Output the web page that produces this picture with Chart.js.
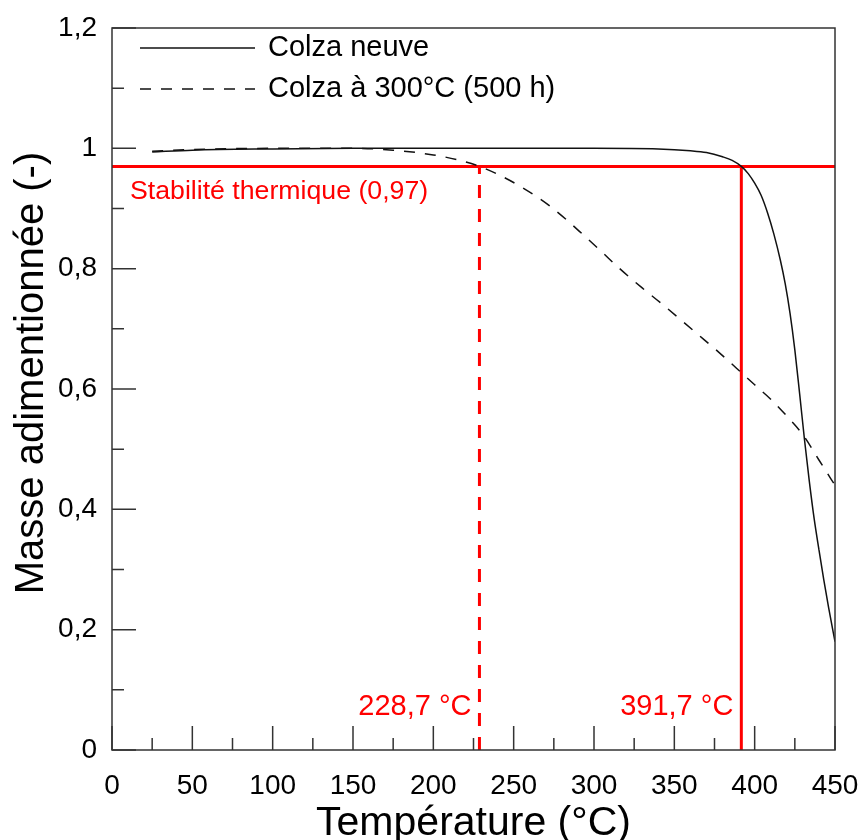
<!DOCTYPE html>
<html>
<head>
<meta charset="utf-8">
<script src="https://cdn.jsdelivr.net/npm/chart.js@4.4.1/dist/chart.umd.min.js"></script>
<style>
    body { margin: 0; background: #fff; }
    #wrap { width: 862px; height: 840px; }
</style>
</head>
<body>
<div id="wrap"><canvas id="chart" width="862" height="840"></canvas></div>
<script>
// valeurs
const tempNeuve = [25, 50, 100, 150, 200, 250, 300, 340, 360, 370, 380, 386, 391.7, 396, 400, 404, 408, 412, 416, 419, 422, 425, 428, 431, 434, 437, 440, 443, 446, 450];
const masseNeuve = [0.994, 0.997, 0.999, 1.0, 1.0, 1.0, 1.0, 0.999, 0.996, 0.993, 0.986, 0.98, 0.97, 0.958, 0.942, 0.922, 0.893, 0.857, 0.814, 0.775, 0.726, 0.665, 0.592, 0.516, 0.447, 0.385, 0.333, 0.283, 0.237, 0.18];

const tempVieillie = [25, 50, 100, 150, 175, 200, 215, 228.7, 240, 254, 263, 273, 283, 293, 304, 316, 330, 342, 354, 365, 376, 391, 400, 410, 420, 430, 440, 450];
const masseVieillie = [0.995, 0.998, 1.0, 1.0, 0.997, 0.989, 0.981, 0.97, 0.957, 0.937, 0.922, 0.903, 0.881, 0.857, 0.83, 0.8, 0.768, 0.742, 0.715, 0.69, 0.665, 0.629, 0.607, 0.583, 0.555, 0.524, 0.482, 0.44];

const seuil = 0.97;
const tempSeuil = [228.7, 391.7];
const plageX = [0, 450];

const xMajor = [0, 50, 100, 150, 200, 250, 300, 350, 400, 450];
const xMinor = [25, 75, 125, 175, 225, 275, 325, 375, 425];
const yMajor = [0, 0.2, 0.4, 0.6, 0.8, 1.0, 1.2];
const yMinor = [0.1, 0.3, 0.5, 0.7, 0.9, 1.1];

const labels = ["Colza neuve", "Colza à 300°C (500 h)"];

const FONT = "'Liberation Sans', Arial, sans-serif";
const RED = "#ff0000";

function pts(xs, ys) {
    return xs.map((x, i) => ({x: x, y: ys[i]}));
}
function virgule(v) {
    return String(v).replace(".", ",");
}

const decor = {
    id: "decor",
    afterDraw(chart) {
        const ctx = chart.ctx;
        const a = chart.chartArea;
        const sx = chart.scales.x;
        const sy = chart.scales.y;
        ctx.save();

        // cadre
        ctx.strokeStyle = "#333";
        ctx.lineWidth = 1.5;
        ctx.strokeRect(a.left, a.top, a.right - a.left, a.bottom - a.top);

        // graduations vers l'intérieur
        ctx.beginPath();
        xMajor.forEach(v => { let p = sx.getPixelForValue(v); ctx.moveTo(p, a.bottom); ctx.lineTo(p, a.bottom - 24); });
        xMinor.forEach(v => { let p = sx.getPixelForValue(v); ctx.moveTo(p, a.bottom); ctx.lineTo(p, a.bottom - 12); });
        yMajor.forEach(v => { let p = sy.getPixelForValue(v); ctx.moveTo(a.left, p); ctx.lineTo(a.left + 24, p); });
        yMinor.forEach(v => { let p = sy.getPixelForValue(v); ctx.moveTo(a.left, p); ctx.lineTo(a.left + 12, p); });
        ctx.stroke();

        // légende
        ctx.font = "29px " + FONT;
        ctx.textBaseline = "middle";
        ctx.textAlign = "left";
        ctx.fillStyle = "#000";
        [0, 1].forEach(i => {
            const ds = chart.data.datasets[i];
            const y = a.top + 20 + i * 41;
            ctx.strokeStyle = ds.borderColor;
            ctx.lineWidth = ds.borderWidth;
            ctx.setLineDash(ds.borderDash || []);
            ctx.beginPath();
            ctx.moveTo(a.left + 28, y);
            ctx.lineTo(a.left + 143, y);
            ctx.stroke();
            ctx.fillText(ds.label, a.left + 156, y);
        });
        ctx.setLineDash([]);

        // textes rouges
        ctx.fillStyle = RED;
        ctx.textBaseline = "alphabetic";
        ctx.font = "26.7px " + FONT;
        ctx.fillText("Stabilité thermique (" + virgule(seuil) + ")", a.left + 18, sy.getPixelForValue(seuil) + 33);
        ctx.font = "29px " + FONT;
        ctx.textAlign = "right";
        tempSeuil.forEach(t => {
            ctx.fillText(virgule(t) + " °C", sx.getPixelForValue(t) - 8, a.bottom - 35);
        });

        // titres des axes
        ctx.fillStyle = "#000";
        ctx.font = "41px " + FONT;
        ctx.textAlign = "center";
        ctx.fillText("Température (°C)", (a.left + a.right) / 2, 835);
        ctx.font = "40px " + FONT;
        ctx.translate(43, (a.top + a.bottom) / 2 - 16);
        ctx.rotate(-Math.PI / 2);
        ctx.fillText("Masse adimentionnée (-)", 0, 0);

        ctx.restore();
    }
};

new Chart(document.getElementById("chart"), {
    type: "line",
    data: {
        datasets: [
            {label: labels[0], data: pts(tempNeuve, masseNeuve), borderColor: "#111", borderWidth: 1.5, cubicInterpolationMode: "monotone", pointRadius: 0},
            {label: labels[1], data: pts(tempVieillie, masseVieillie), borderColor: "#111", borderWidth: 1.5, borderDash: [11, 10], cubicInterpolationMode: "monotone", pointRadius: 0},
            {label: "seuil", data: pts(plageX, [seuil, seuil]), borderColor: RED, borderWidth: 3, pointRadius: 0},
            {label: "t1", data: pts([tempSeuil[0], tempSeuil[0]], [0, seuil]), borderColor: RED, borderWidth: 3, borderDash: [13, 11], pointRadius: 0},
            {label: "t2", data: pts([tempSeuil[1], tempSeuil[1]], [0, seuil]), borderColor: RED, borderWidth: 3, pointRadius: 0}
        ]
    },
    options: {
        responsive: false,
        animation: false,
        devicePixelRatio: 1,
        layout: {padding: {top: 28, right: 27, left: 0, bottom: 0}},
        plugins: {legend: {display: false}, tooltip: {enabled: false}},
        scales: {
            x: {
                type: "linear", min: 0, max: 450,
                grid: {display: false, drawTicks: false}, border: {display: false},
                ticks: {stepSize: 50, color: "#000", font: {size: 28, family: FONT}, padding: 19, maxRotation: 0, autoSkip: false},
                afterFit(s) { s.height = 90; s.paddingLeft = 0; s.paddingRight = 0; }
            },
            y: {
                type: "linear", min: 0, max: 1.2,
                grid: {display: false, drawTicks: false}, border: {display: false},
                ticks: {
                    stepSize: 0.2, color: "#000", font: {size: 28, family: FONT}, padding: 15,
                    callback: v => virgule(Number(v.toFixed(1)))
                },
                afterFit(s) { s.width = 112; s.paddingTop = 0; s.paddingBottom = 0; }
            }
        }
    },
    plugins: [decor]
});
</script>
</body>
</html>
